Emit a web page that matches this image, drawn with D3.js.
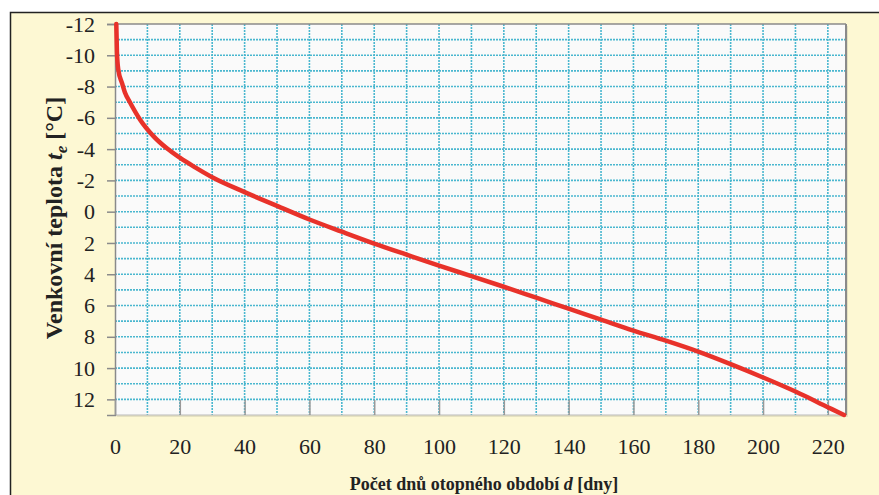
<!DOCTYPE html>
<html>
<head>
<meta charset="utf-8">
<script src="https://cdn.jsdelivr.net/npm/d3@7"></script>
<style>
  html, body { margin: 0; padding: 0; background: #ffffff; }
  svg { display: block; }
  svg text { font-family: "Liberation Serif", "Times New Roman", Times, serif; }
</style>
</head>
<body>
<svg id="chart" width="879" height="495"></svg>
<script>
// Data
const days = [0.4, 0.6, 1.0, 2.2, 3.1, 4.6, 7.7, 12, 16, 20, 25, 30, 40, 50, 60, 70, 80, 90, 100, 110, 120, 130, 140, 150, 160, 170, 180, 190, 200, 210, 220, 225];
const temps = [-12, -10.2, -9.1, -8.2, -7.6, -7.0, -5.9, -4.8, -4.05, -3.45, -2.8, -2.2, -1.25, -0.37, 0.5, 1.28, 2.04, 2.75, 3.45, 4.12, 4.8, 5.5, 6.2, 6.9, 7.6, 8.25, 8.95, 9.75, 10.6, 11.5, 12.5, 13.0];
const xTicks = [0, 20, 40, 60, 80, 100, 120, 140, 160, 180, 200, 220];
const yTicks = [-12, -10, -8, -6, -4, -2, 0, 2, 4, 6, 8, 10, 12];
const xTitle = "Počet dnů otopného období ";
const yTitle = "Venkovní teplota ";

const svg = d3.select("#chart");
const W = 879, H = 495;
const plot = { left: 115, right: 846, top: 24, bottom: 415 };

const x = d3.scaleLinear().domain([0, 225.6]).range([plot.left, plot.right]);
const y = d3.scaleLinear().domain([-12, 13]).range([plot.top, plot.bottom]);

// Yellow panel
svg.append("rect").attr("x", 10.5).attr("y", 12.5).attr("width", W).attr("height", H)
  .attr("fill", "#fdf8d3").attr("stroke", "#222").attr("stroke-width", 1.5);

// Plot background with shadow on right
svg.append("rect").attr("x", plot.left + 2).attr("y", plot.top + 2)
  .attr("width", plot.right - plot.left).attr("height", plot.bottom - plot.top)
  .attr("fill", "#e6e2c0");
svg.append("rect").attr("x", plot.left).attr("y", plot.top)
  .attr("width", plot.right - plot.left).attr("height", plot.bottom - plot.top)
  .attr("fill", "#fafafa");

// Grid
const grid = svg.append("g");
const xGrid = d3.range(10, 226, 10);
const yGrid = d3.range(-11, 13, 1);
grid.selectAll("line.v").data(xGrid).join("line")
  .attr("x1", d => x(d)).attr("x2", d => x(d))
  .attr("y1", plot.top).attr("y2", plot.bottom)
  .attr("stroke", "#4ab7cf").attr("stroke-width", 1.6).attr("stroke-dasharray", "2,1");
grid.selectAll("line.h").data(yGrid).join("line")
  .attr("x1", plot.left).attr("x2", plot.right)
  .attr("y1", d => y(d)).attr("y2", d => y(d))
  .attr("stroke", "#4ab7cf").attr("stroke-width", 1.6).attr("stroke-dasharray", "2,1");

// Plot frame
svg.append("line").attr("x1", plot.left).attr("x2", plot.right).attr("y1", plot.top).attr("y2", plot.top)
  .attr("stroke", "#8a8a8a").attr("stroke-width", 1.5);
svg.append("line").attr("x1", plot.right).attr("x2", plot.right).attr("y1", plot.top).attr("y2", plot.bottom)
  .attr("stroke", "#8a8a8a").attr("stroke-width", 2);
svg.append("line").attr("x1", plot.left).attr("x2", plot.right).attr("y1", plot.bottom).attr("y2", plot.bottom)
  .attr("stroke", "#bbbbbb").attr("stroke-width", 1);

// Axes
const yAxis = d3.axisLeft(y).tickValues(yTicks).tickSize(8).tickPadding(12).tickFormat(d => d);
const gy = svg.append("g").attr("transform", `translate(${plot.left},0)`).call(yAxis);
gy.attr("font-family", null).attr("font-size", null);
gy.select(".domain").attr("stroke", "#8a8a8a").attr("stroke-width", 1.5);
gy.selectAll(".tick line").attr("stroke", "#8a8a8a").attr("stroke-width", 1.5);
gy.selectAll(".tick text").attr("font-size", 22).attr("fill", "#222");

const xAxis = d3.axisBottom(x).tickValues(xTicks).tickSize(-15).tickPadding(23).tickFormat(d => d);
const gx = svg.append("g").attr("transform", `translate(0,${plot.bottom})`).call(xAxis);
gx.attr("font-family", null).attr("font-size", null);
gx.select(".domain").remove();
gx.selectAll(".tick line").attr("stroke", "#999").attr("stroke-width", 1.5);
gx.selectAll(".tick text").attr("font-size", 22).attr("fill", "#222");

// Curve
const pts = days.map((d, i) => [d, temps[i]]);
svg.append("path").datum(pts)
  .attr("d", d3.line().x(d => x(d[0])).y(d => y(d[1])).curve(d3.curveMonotoneX))
  .attr("fill", "none").attr("stroke", "#e8322a").attr("stroke-width", 4.5)
  .attr("stroke-linecap", "round");

// Titles
const xt = svg.append("text").attr("x", 484).attr("y", 490).attr("text-anchor", "middle")
  .attr("font-size", 18).attr("font-weight", "bold").attr("fill", "#222");
xt.append("tspan").text(xTitle);
xt.append("tspan").attr("font-style", "italic").text("d");
xt.append("tspan").text(" [dny]");

const yt = svg.append("text").attr("transform", "translate(62,218) rotate(-90)").attr("text-anchor", "middle")
  .attr("font-size", 24).attr("font-weight", "bold").attr("fill", "#222");
yt.append("tspan").text(yTitle);
yt.append("tspan").attr("font-style", "italic").text("t");
yt.append("tspan").attr("font-style", "italic").attr("font-size", 17).attr("dy", 5).text("e");
yt.append("tspan").attr("dy", -5).text(" [°C]");
</script>
</body>
</html>
